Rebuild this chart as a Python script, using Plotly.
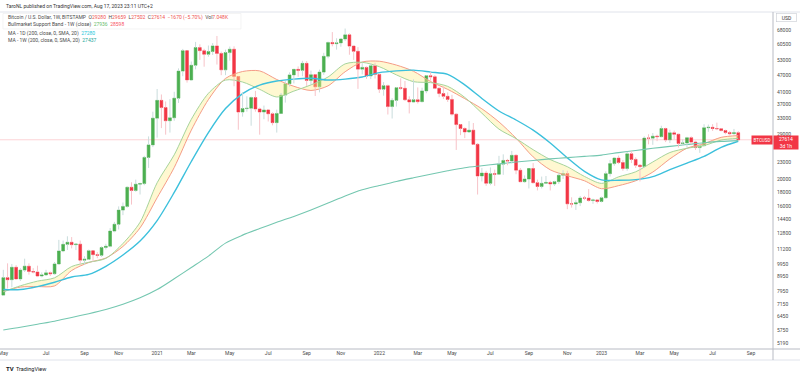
import math
import pandas as pd
import plotly.graph_objects as go

# ---------------- data (weekly BTCUSD, Bitstamp) ----------------
first_week = "2020-04-27"

opens = [
 7690, 8880, 8730, 9670, 8790, 9450, 9760, 9340, 9300, 9000,
 9080, 9240, 9170, 9940, 11060, 11680, 11880, 11650, 11700, 10250,
 10330, 11080, 10730, 10670, 11380, 11500, 13030, 13780, 15480, 15960,
 18680, 18190, 19160, 19260, 23880, 26480, 33000, 38200, 36000, 32300,
 33100, 38900, 48600, 57500, 45200, 51000, 59000, 57500, 55800, 57100,
 59800, 56200, 49100, 56600, 58200, 46500, 34700, 35700, 35800, 39100,
 35600, 34700, 35300, 34200, 31800, 34300, 39900, 43800, 47100, 49300,
 48900, 51800, 45000, 47200, 42700, 48200, 54900, 61500, 60900, 61300,
 63300, 65500, 59700, 57200, 49400, 50100, 46700, 50800, 47300, 41900,
 43100, 36300, 38200, 42400, 42200, 38400, 37700, 38400, 37800, 41300,
 46800, 46400, 42200, 40400, 39500, 38500, 34100, 31300, 30300, 29450,
 29900, 26600, 20500, 21000, 19300, 20900, 20800, 22600, 23300, 23200,
 24300, 21500, 19560, 19990, 21800, 19400, 18800, 19300, 19440, 19200,
 19570, 20630, 20920, 16300, 16280, 16450, 17100, 17090, 16750, 16840,
 16620, 17130, 20900, 22700, 23750, 22900, 21800, 24600, 23500, 22400,
 22150, 28000, 27990, 28450, 28330, 30300, 27600, 29250, 28900, 26800,
 26900, 28100, 27100, 25900, 26300, 30500, 30600, 30300, 30250, 29800,
 29300, 29050, 29280]

highs = [
 9470, 9990, 9940, 9840, 9600, 10380, 9990, 9600, 9800, 9270,
 9470, 9340, 10100, 12120, 12050, 12480, 12400, 11800, 12050, 10590,
 11190, 11100, 10960, 11490, 11730, 13350, 14050, 15960, 16480, 18800,
 19470, 19900, 19400, 24200, 28400, 34800, 41950, 40100, 37850, 38600,
 41000, 49700, 58350, 57500, 52600, 61800, 60600, 58400, 60000, 61200,
 64900, 57100, 58000, 59500, 59600, 46600, 40900, 39500, 39400, 41300,
 36000, 36600, 35400, 34600, 35400, 40600, 44800, 48100, 49400, 50500,
 52900, 52800, 48800, 47300, 49200, 56500, 62000, 67000, 63700, 63500,
 69000, 66300, 59900, 59200, 51900, 50500, 51900, 52100, 47500, 44400,
 43500, 38900, 42600, 45800, 44800, 39500, 45400, 42500, 42400, 47000,
 48200, 47000, 42400, 42900, 40800, 40000, 34300, 31400, 30600, 32200,
 31700, 26900, 21900, 21400, 22000, 21600, 24200, 24500, 23600, 25200,
 24500, 21900, 20600, 21800, 22800, 19900, 20400, 20500, 19700, 19700,
 21100, 21500, 21400, 17200, 16800, 17400, 17400, 18400, 17000, 16950,
 17300, 21300, 23400, 23900, 24250, 23400, 25000, 25200, 23900, 22600,
 28400, 28900, 29200, 28800, 31000, 30500, 30000, 29800, 29000, 27700,
 28300, 28400, 27400, 26800, 31400, 31300, 31400, 31800, 30400, 30000,
 29700, 30200, 29659]

lows = [
 7660, 8120, 8200, 8800, 8640, 9300, 9100, 9200, 8920, 8900,
 9040, 9000, 9100, 9900, 10950, 11150, 11300, 11140, 9880, 9880,
 10270, 10140, 10420, 10530, 11190, 11400, 12900, 13200, 14850, 15800,
 16200, 18000, 17600, 19000, 21900, 26000, 28100, 30400, 28800, 29300,
 32300, 37400, 46600, 44200, 45000, 49300, 53300, 50400, 54700, 55500,
 51300, 47000, 47000, 53000, 42900, 30000, 33400, 34800, 31000, 34800,
 28800, 32700, 32100, 31100, 29300, 34200, 37500, 42800, 43900, 46400,
 46600, 43000, 43400, 39600, 40800, 47100, 54000, 59600, 58000, 59400,
 62300, 55600, 53300, 42000, 47300, 45600, 45500, 45700, 40600, 39700,
 34000, 32900, 36300, 41700, 38000, 34300, 37400, 37200, 37600, 40500,
 44900, 41900, 39200, 38600, 37700, 33700, 25400, 28700, 28000, 29300,
 26500, 17600, 19600, 18900, 19000, 18900, 20700, 20700, 22400, 22700,
 20800, 19500, 19400, 18500, 19300, 18200, 18500, 19200, 18200, 18900,
 19200, 20000, 15600, 15800, 15500, 16000, 16800, 16600, 16300, 16350,
 16500, 17100, 20400, 22300, 22600, 21400, 21400, 22800, 21900, 19600,
 21900, 26600, 26500, 27300, 28200, 27100, 26900, 27700, 25900, 26300,
 25900, 26600, 25400, 24800, 26200, 29500, 29700, 29900, 29600, 28900,
 28600, 28800, 27502]

closes = [
 8880, 8730, 9670, 8790, 9450, 9760, 9340, 9300, 9000, 9080,
 9240, 9170, 9940, 11060, 11680, 11880, 11650, 11700, 10250, 10330,
 11080, 10730, 10670, 11380, 11500, 13030, 13780, 15480, 15960, 18680,
 18190, 19160, 19260, 23880, 26480, 33000, 38200, 36000, 32300, 33100,
 38900, 48600, 57500, 45200, 51000, 59000, 57500, 55800, 57100, 59800,
 56200, 49100, 56600, 58200, 46500, 34700, 35700, 35800, 39100, 35600,
 34700, 35300, 34200, 31800, 34300, 39900, 43800, 47100, 49300, 48900,
 51800, 45000, 47200, 42700, 48200, 54900, 61500, 60900, 61300, 63300,
 65500, 59700, 57200, 49400, 50100, 46700, 50800, 47300, 41900, 43100,
 36300, 38200, 42400, 42200, 38400, 37700, 38400, 37800, 41300, 46800,
 46400, 42200, 40400, 39500, 38500, 34100, 31300, 30300, 29450, 29900,
 26600, 20500, 21000, 19300, 20900, 20800, 22600, 23300, 23200, 24300,
 21500, 19560, 19990, 21800, 19400, 18800, 19300, 19440, 19200, 19570,
 20630, 20920, 16300, 16280, 16450, 17100, 17090, 16750, 16840, 16620,
 17130, 20900, 22700, 23750, 22900, 21800, 24600, 23500, 22400, 22150,
 28000, 27990, 28450, 28330, 30300, 27600, 29250, 28900, 26800, 26900,
 28100, 27100, 25900, 26300, 30500, 30600, 30300, 30250, 29800, 29300,
 29050, 29280, 27614]

# Indicator lines, read every 4th weekly bar
ma_step = 4
sma20w = [7927, 8216, 8247, 8296, 9417, 10055, 10437, 11480, 13373, 17137,
          21984, 29885, 38443, 45763, 48440, 48685, 45350, 42885, 41445, 43055,
          48345, 52385, 52715, 51070, 48540, 44605, 41815, 38738, 35638, 31983,
          27983, 23990, 21570, 20541, 19707, 18459, 18934, 19712, 21170, 23598,
          25766, 26744, 28176, 28598]
ema21w = [7898, 8303, 8626, 8867, 9731, 10076, 10403, 11761, 14010, 19389,
          24401, 32677, 40471, 45152, 44422, 41821, 39291, 41226, 43400, 46308,
          51580, 52242, 50406, 47111, 44551, 44199, 42870, 39144, 34380, 30144,
          27886, 25450, 23469, 22126, 20427, 19292, 20355, 21218, 23008, 24866,
          25749, 26330, 27559, 27936]
ma200d = [8050, 8050, 8250, 8550, 8930, 9120, 9750, 10700, 12000, 14200,
          17900, 23100, 29300, 35700, 40400, 43300, 44800, 45500, 45800, 45150,
          45500, 46300, 48000, 48700, 49000, 48200, 47300, 43400, 38800, 35000,
          32500, 29900, 26900, 23800, 21300, 19850, 19800, 19900, 20400, 21600,
          22800, 24100, 25950, 27280]
ma200w = [5770, 5900, 6050, 6200, 6400, 6600, 6830, 7130, 7520, 8050,
          8800, 9650, 10600, 11800, 12600, 13300, 14000, 14700, 15500, 16400,
          17400, 18300, 18950, 19600, 20200, 20800, 21400, 21950, 22300, 22650,
          23000, 23300, 23600, 23850, 24100, 24350, 24850, 25300, 25750, 26150,
          26550, 26950, 27250, 27437]

ytick_vals = [68000, 60500, 53000, 47000, 41000, 37000, 33000, 29000, 23000, 20000,
              18000, 16000, 14400, 12800, 11200, 9950, 8950, 7950, 7150, 6450, 5750, 5190]
xtick_dates = ["2020-04-27", "2020-07-06", "2020-09-07", "2020-11-02", "2021-01-04",
               "2021-03-01", "2021-05-03", "2021-07-05", "2021-09-06", "2021-11-01",
               "2022-01-03", "2022-03-07", "2022-05-02", "2022-07-04", "2022-09-05",
               "2022-11-07", "2023-01-02", "2023-03-06", "2023-05-01", "2023-07-03",
               "2023-09-04"]
xtick_text = ["May", "Jul", "Sep", "Nov", "2021", "Mar", "May", "Jul", "Sep", "Nov",
              "2022", "Mar", "May", "Jul", "Sep", "Nov", "2023", "Mar", "May", "Jul", "Sep"]

dates = pd.date_range(first_week, periods=len(closes), freq="7D")
ma_dates = dates[::ma_step]

# ---------------- geometry / style ----------------
W, H = 800, 375
PL, PR, PT, PB = 0, 773, 12, 349
BAR_PX = 4.273          # px per weekly bar
FIRST_BAR_PX = 3.3
px_day = BAR_PX / 7.0
x_left = dates[0] - pd.Timedelta(days=(FIRST_BAR_PX - PL) / px_day)
x_right = dates[0] + pd.Timedelta(days=(PR - FIRST_BAR_PX) / px_day)

REF_P, REF_PX, PX_LN = 68000, 30.3, 121.5
y_hi = REF_P * math.exp((REF_PX - PT) / PX_LN)
y_lo = REF_P * math.exp(-(PB - REF_PX) / PX_LN)

UP, DN = "#4caf50", "#f23645"
UP_WICK, DN_WICK = "#c9dcdc", "#f7c3c8"
TXT = "#4a4a4a"
FONT = "Roboto"


def ax(px):
    return (px - PL) / (PR - PL)


def ay(py):
    return (PB - py) / (PB - PT)


def price_paper(p):
    return (math.log10(p) - math.log10(y_lo)) / (math.log10(y_hi) - math.log10(y_lo))


def wick_xy(up):
    xs, ys = [], []
    for d, o, h, l, c in zip(dates, opens, highs, lows, closes):
        if (c >= o) != up:
            continue
        top, bot = max(o, c), min(o, c)
        if h > top:
            xs += [d, d, None]
            ys += [top, h, None]
        if l < bot:
            xs += [d, d, None]
            ys += [l, bot, None]
    return xs, ys


fig = go.Figure()

# last price line
fig.add_trace(go.Scatter(x=[x_left, x_right], y=[closes[-1], closes[-1]], mode="lines",
                         line=dict(color="rgba(242,54,69,0.22)", width=1), hoverinfo="skip"))

# Bull market support band
fig.add_trace(go.Scatter(x=ma_dates, y=sma20w, mode="lines", line=dict(color="#f59c87", width=1, shape="spline", smoothing=0.8),
                         hoverinfo="skip"))
fig.add_trace(go.Scatter(x=ma_dates, y=ema21w, mode="lines", line=dict(color="#a6d49c", width=1, shape="spline", smoothing=0.8),
                         fill="tonexty", fillcolor="rgba(255,238,140,0.40)", hoverinfo="skip"))
# 200D and 200W MAs
fig.add_trace(go.Scatter(x=ma_dates, y=ma200d, mode="lines", line=dict(color="#3cc0dc", width=1.4, shape="spline", smoothing=0.8),
                         hoverinfo="skip"))
fig.add_trace(go.Scatter(x=ma_dates, y=ma200w, mode="lines", line=dict(color="#74c7b0", width=1.1, shape="spline", smoothing=0.8),
                         hoverinfo="skip"))

# wicks
for up, col in ((True, UP_WICK), (False, DN_WICK)):
    wx, wy = wick_xy(up)
    fig.add_trace(go.Scatter(x=wx, y=wy, mode="lines", line=dict(color=col, width=1),
                             connectgaps=False, hoverinfo="skip"))

# bodies
body_hi = [max(o, c) for o, c in zip(opens, closes)]
body_lo = [min(o, c) for o, c in zip(opens, closes)]
fig.add_trace(go.Candlestick(
    x=dates, open=opens, high=body_hi, low=body_lo, close=closes, whiskerwidth=0,
    increasing=dict(fillcolor=UP, line=dict(color=UP, width=0.6)),
    decreasing=dict(fillcolor=DN, line=dict(color=DN, width=0.6)),
    hoverinfo="skip"))

# ---------------- annotations ----------------
SP = "\u00a0"
RED_T = "#ef5350"


def col(t, c):
    return f"<span style='color:{c}'>{t}</span>"


def note(text, x_px, y_px, size=5, color=TXT, xanchor="left", **kw):
    return dict(text=text, x=ax(x_px), y=ay(y_px), xref="paper", yref="paper",
                xanchor=xanchor, yanchor="middle", showarrow=False,
                font=dict(size=size, color=color, family=FONT), borderpad=0, **kw)


row1 = ("Bitcoin / U.S. Dollar, 1W, BITSTAMP" + SP * 2 +
        "O" + col(opens[-1], RED_T) + SP * 2 +
        "H" + col(highs[-1], RED_T) + SP * 2 +
        "L" + col(lows[-1], RED_T) + SP * 2 +
        "C" + col(closes[-1], RED_T) + SP * 2 +
        col("\u22121670 (\u22125.70%)", RED_T) + SP * 2 +
        "Vol" + col("7.048K", RED_T))
row2 = ("Bullmarket Support Band - 1W (close)" + SP * 2 + col(ema21w[-1], "#66bb6a") + SP * 2 +
        col(sma20w[-1], "#f7525f"))
row3 = "MA - 1D (200, close, 0, SMA, 20)" + SP * 2 + col(ma200d[-1], "#26c6da")
row4 = "MA - 1W (200, close, 0, SMA, 20)" + SP * 2 + col(ma200w[-1], "#26a69a")

py_last = PB - price_paper(closes[-1]) * (PB - PT)

annotations = [
    note("TaroNL published on TradingView.com, Aug 17, 2023 23:11 UTC+2", 5, 5.8, color="#333"),
    note(row1, 7, 17.8),
    note(row2, 7, 24.6),
    note(row3, 7, 33.3),
    note(row4, 7, 40.2),
    note(f"{closes[-1]}<br>3d 1h", 786, py_last + 2.6, size=5, color="white", xanchor="center",
         bgcolor=DN, width=24, height=12.5, align="center"),
    note("BTCUSD", 762, py_last, size=4.5, color="white", xanchor="center",
         bgcolor=DN, width=20, height=8, align="center"),
    note("USD", 786, 18, size=5, color="#333", xanchor="center",
         bordercolor="#c8cbd3", borderwidth=0.6, width=20, height=8, align="center"),
    note("<b>TV</b>", 5, 368.5, size=6, color="#131722"),
    note("TradingView", 15, 368.5, size=5.5, color="#131722"),
]


def hline(py, x0, x1, color, w=1):
    return dict(type="line", xref="paper", yref="paper", x0=ax(x0), x1=ax(x1), y0=ay(py), y1=ay(py),
                line=dict(color=color, width=w))


shapes = [
    dict(type="rect", xref="paper", yref="paper", x0=ax(3), x1=ax(241), y0=ay(29), y1=ay(13.5),
         fillcolor="rgba(255,255,255,0.7)", line=dict(color="#ececec", width=0.6), layer="above"),
    hline(12, 0, 800, "#e0e3eb"),
    hline(349, 0, 800, "#b8bbc4"),
    hline(360, 0, 800, "#e0e3eb"),
    dict(type="line", xref="paper", yref="paper", x0=ax(773), x1=ax(773), y0=ay(12), y1=ay(360),
         line=dict(color="#b8bbc4", width=1)),
]

fig.update_layout(
    width=W, height=H,
    margin=dict(l=PL, r=W - PR, t=PT, b=H - PB, pad=0),
    paper_bgcolor="white", plot_bgcolor="white",
    showlegend=False, hovermode=False,
    font=dict(family=FONT, size=5, color=TXT),
    boxgap=0.2, boxgroupgap=0.2,
    annotations=annotations, shapes=shapes,
    xaxis=dict(type="date", range=[x_left, x_right], showgrid=False, zeroline=False,
               showline=False, ticks="", ticklen=0, tickmode="array", tickvals=xtick_dates, ticktext=xtick_text,
               tickfont=dict(size=5, color=TXT, family=FONT), ticklabeloverflow="allow",
               rangeslider=dict(visible=False), fixedrange=True),
    yaxis=dict(type="log", side="right", range=[math.log10(y_lo), math.log10(y_hi)],
               showgrid=False, zeroline=False, showline=False, ticks="", ticklen=0,
               tickmode="array", tickvals=ytick_vals, ticktext=[str(v) for v in ytick_vals],
               tickfont=dict(size=5, color=TXT, family=FONT), ticklabelstandoff=3, fixedrange=True),
)

fig.write_html("out.html", config={"displayModeBar": False},
               post_script="document.documentElement.style.margin='0';document.body.style.margin='0';"
                           "document.body.style.padding='0';")
